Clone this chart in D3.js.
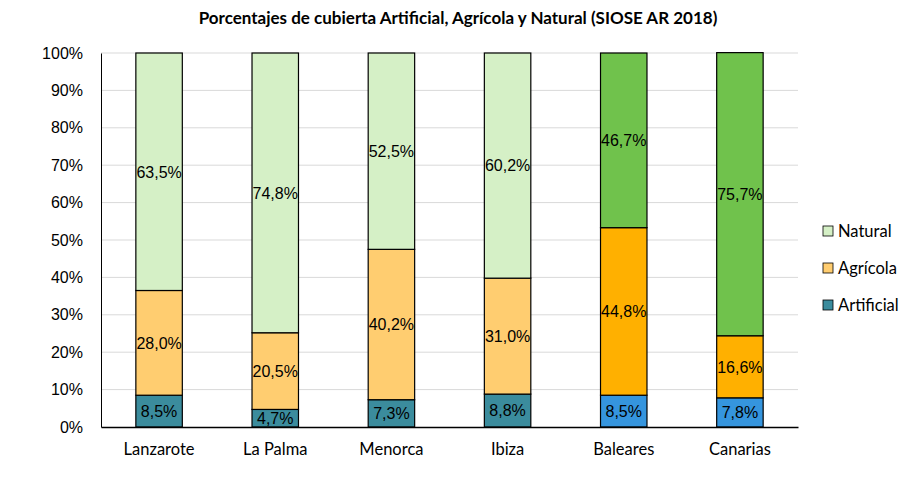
<!DOCTYPE html>
<html><head><meta charset="utf-8">
<script src="https://cdn.jsdelivr.net/npm/d3@7"></script>
<style>body{margin:0;background:#fff}svg{display:block}</style>
</head><body>
<svg id="c" width="912" height="486"></svg>
<script>
const categories = ["Lanzarote","La Palma","Menorca","Ibiza","Baleares","Canarias"];
const artificial = [8.5, 4.7, 7.3, 8.8, 8.5, 7.8];
const agricola   = [28.0, 20.5, 40.2, 31.0, 44.8, 16.6];
const natural    = [63.5, 74.8, 52.5, 60.2, 46.7, 75.7];
const seriesNames = ["Artificial","Agrícola","Natural"];
const yTicks = [0,10,20,30,40,50,60,70,80,90,100];
const title = "Porcentajes de cubierta Artificial, Agrícola y Natural (SIOSE AR 2018)";

const colorsLight = ["#3B8C9D","#FFCD70","#D5F0C6"];
const colorsDark  = ["#3595DE","#FFB000","#70C24C"];
const highlight = new Set(["Baleares","Canarias"]);

const svg = d3.select("#c");
const m = {l:101, r:798, t:53, b:427};
const x = d3.scaleBand().domain(categories).range([m.l, m.r]).paddingInner(0.6).paddingOuter(0.3);
const y = d3.scaleLinear().domain([0,100]).range([m.b, m.t]);

const lblFont = "Liberation Sans, Arial, sans-serif";
const catFont = "Lato, 'Open Sans', sans-serif";

// gridlines
svg.append("g").selectAll("line").data(yTicks.filter(d=>d>0)).join("line")
  .attr("x1", m.l).attr("x2", m.r).attr("y1", d=>y(d)).attr("y2", d=>y(d))
  .attr("stroke", "#d9d9d9").attr("stroke-width", 1);

// y axis
const yAxis = d3.axisLeft(y).tickValues(yTicks).tickFormat(d=>d+"%").tickSize(0).tickPadding(18);
const ya = svg.append("g").attr("transform", `translate(${m.l},0)`).call(yAxis);
ya.select(".domain").attr("stroke","#000").attr("stroke-width",1);
ya.selectAll("text").attr("font-family", lblFont).attr("font-size", 16).attr("fill","#000");

// stacked data
const rows = categories.map((c,i)=>({cat:c, Artificial:artificial[i], "Agrícola":agricola[i], Natural:natural[i]}));
const stack = d3.stack().keys(seriesNames)(rows);

const g = svg.append("g");
stack.forEach((s, si) => {
  s.forEach((d) => {
    const cat = d.data.cat;
    const col = highlight.has(cat) ? colorsDark[si] : colorsLight[si];
    g.append("rect")
      .attr("x", x(cat)).attr("width", x.bandwidth())
      .attr("y", y(d[1])).attr("height", y(d[0]) - y(d[1]))
      .attr("fill", col).attr("stroke", "#000").attr("stroke-width", 1.2);
  });
});
stack.forEach((s, si) => {
  s.forEach((d) => {
    const cat = d.data.cat;
    const v = d[1]-d[0];
    g.append("text")
      .attr("x", x(cat) + x.bandwidth()/2)
      .attr("y", y((d[0]+d[1])/2))
      .attr("dy", "0.36em")
      .attr("text-anchor", "middle")
      .attr("font-family", lblFont).attr("font-size", 16).attr("fill", "#000")
      .text(d3.format(".1f")(v).replace(".", ",") + "%");
  });
});

// x axis
const xAxis = d3.axisBottom(x).tickSize(0).tickPadding(16);
const xa = svg.append("g").attr("transform", `translate(0,${m.b})`).call(xAxis);
xa.select(".domain").attr("stroke","#000").attr("stroke-width",1.3);
xa.selectAll("text").attr("font-family", catFont).attr("font-size", 16.5).attr("fill","#000");

// title
svg.append("text").attr("x", 458).attr("y", 24).attr("text-anchor","middle")
  .attr("font-family", catFont).attr("font-weight","bold").attr("font-size", 17).attr("fill","#000")
  .text(title);

// legend
const legendOrder = [2,1,0];
const lg = svg.append("g");
legendOrder.forEach((si, k) => {
  const yy = 231 + k*37;
  lg.append("rect").attr("x", 823).attr("y", yy-5).attr("width", 10).attr("height", 10)
    .attr("fill", colorsLight[si]).attr("stroke","#000").attr("stroke-width",0.8);
  lg.append("text").attr("x", 838).attr("y", yy).attr("dy","0.36em")
    .attr("font-family", catFont).attr("font-size", 16.5).attr("fill","#000")
    .text(seriesNames[si]);
});
</script>
</body></html>
